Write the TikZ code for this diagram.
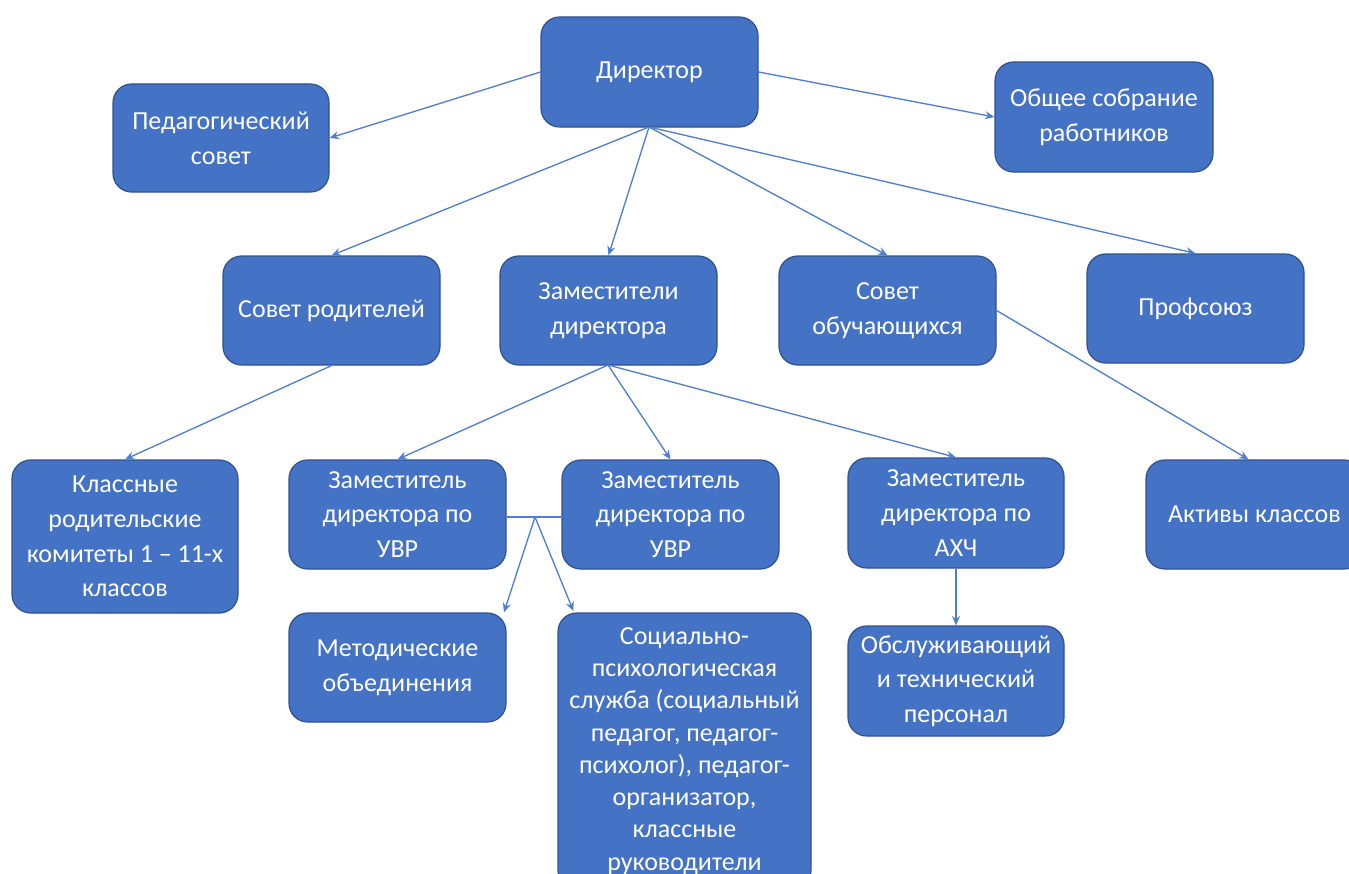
\documentclass[tikz,border=0pt]{standalone}
\usepackage{fontspec}
\setmainfont{Carlito}
\usetikzlibrary{arrows.meta}
\definecolor{boxfill}{HTML}{4472C4}
\definecolor{boxline}{HTML}{2F528F}
\definecolor{connc}{HTML}{4F7FD0}
\begin{document}
\begin{tikzpicture}[x=0.75pt,y=-0.75pt,
  box/.style={draw=boxline, line width=0.9pt, fill=boxfill, rounded corners=14pt,
    text=white, align=center, font=\fontsize{19.5}{26}\selectfont, inner sep=0pt},
  wh/.style 2 args={minimum width=#1*0.75pt, minimum height=#2*0.75pt},
  conn/.style={draw=connc, line width=1pt, -{Stealth[length=7pt,width=6pt]}},
  plain/.style={draw=connc, line width=1pt}]
\useasboundingbox (0,0) rectangle (1349,874);
\begin{scope}
\clip (0,0) rectangle (1349,874);
\node[box, wh={217}{110}] (dir) at (649.5,72) {Директор};
\node[box, wh={216}{108}] (ped) at (221,138) {Педагогический\\совет};
\node[box, wh={218}{110}] (obs) at (1104,117) {Общее собрание\\работников};
\node[box, wh={217}{109}] (rod) at (331.5,310.5) {Совет родителей};
\node[box, wh={217}{109}] (zam) at (608.5,310.5) {Заместители\\директора};
\node[box, wh={217}{109}] (obu) at (887.5,310.5) {Совет\\обучающихся};
\node[box, wh={217}{109}] (prof) at (1195.5,308.5) {Профсоюз};
\node[box, wh={226}{153}] (kl) at (125,536.5) {Классные\\родительские\\комитеты 1 – 11-х\\классов};
\node[box, wh={217}{109}] (uvr1) at (397.5,514.5) {Заместитель\\директора по\\УВР};
\node[box, wh={217}{109}] (uvr2) at (670.5,514.5) {Заместитель\\директора по\\УВР};
\node[box, wh={216}{110}] (ahch) at (956,513) {Заместитель\\директора по\\АХЧ};
\node[box, wh={217}{109}] (akt) at (1254.5,514.5) {Активы классов};
\node[box, wh={217}{109}] (met) at (397.5,667.5) {Методические\\объединения};
\node[box, wh={253}{276}, font=\fontsize{19.5}{24.2}\selectfont] (soc) at (684.5,751) {Социально-\\психологическая\\служба (социальный\\педагог, педагог-\\психолог), педагог-\\организатор,\\классные\\руководители};
\node[box, wh={216}{110}] (obsl) at (956,681) {Обслуживающий\\и технический\\персонал};
\end{scope}
\coordinate (dirb) at (649,127);
\coordinate (zamb) at (608,365);
\coordinate (j) at (535,517);
\draw[conn] (dir.west) -- (ped.east);
\draw[conn] (dir.east) -- (obs.west);
\draw[conn] (dirb) -- (rod.north);
\draw[conn] (dirb) -- (zam.north);
\draw[conn] (dirb) -- (obu.north);
\draw[conn] (dirb) -- (prof.north);
\draw[conn] (rod.south) -- (kl.north);
\draw[conn] (zamb) -- (uvr1.north);
\draw[conn] (zamb) -- (uvr2.north);
\draw[conn] (zamb) -- (ahch.north);
\draw[conn] (obu.east) -- ([xshift=-4.5pt]akt.north);
\draw[plain] (uvr1.east |- j) -- (uvr2.west |- j);
\draw[conn] (j) -- ([xshift=-2pt]met.north east);
\draw[conn] (j) -- ([xshift=12pt,yshift=1pt]soc.north west);
\draw[conn] (ahch.south) -- (obsl.north);
\end{tikzpicture}
\end{document}
